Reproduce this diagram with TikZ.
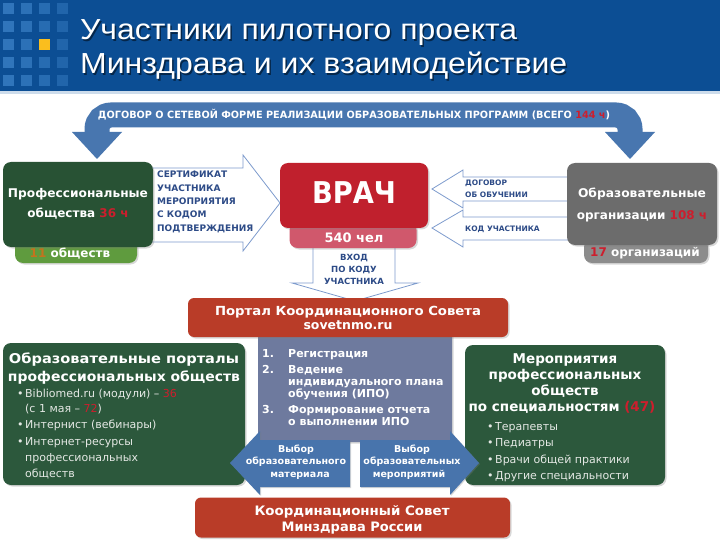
\documentclass[tikz,border=0pt]{standalone}
\usepackage{fontspec}
\usepackage{graphicx}
\setmainfont{DejaVu Sans}
\newfontfamily\titlefont{Liberation Sans}
\usetikzlibrary{shadows}
\definecolor{hdrblue}{RGB}{12,78,148}
\definecolor{hdrline}{RGB}{205,220,235}
\definecolor{sqblue}{RGB}{55,125,195}
\definecolor{gold}{RGB}{250,190,30}
\definecolor{steel}{RGB}{72,118,175}
\definecolor{dgreen}{RGB}{40,82,52}
\definecolor{dgreenb}{RGB}{44,88,60}
\definecolor{lgreen}{RGB}{95,155,62}
\definecolor{vred}{RGB}{192,32,45}
\definecolor{pinktab}{RGB}{208,88,108}
\definecolor{orggray}{RGB}{108,108,108}
\definecolor{graytab}{RGB}{140,140,140}
\definecolor{orred}{RGB}{185,60,40}
\definecolor{slate}{RGB}{110,122,158}
\definecolor{barrowc}{RGB}{72,116,172}
\definecolor{outline}{RGB}{125,155,205}
\definecolor{navytxt}{RGB}{45,75,135}
\definecolor{numred}{RGB}{205,30,45}
\definecolor{numorange}{RGB}{195,115,30}
\definecolor{bultxt}{RGB}{228,232,228}
\newcommand\fitw[2]{\resizebox{#1}{\height}{#2}}
\tikzset{
  panel/.style={rounded corners=8pt, inner sep=0pt, draw=none,
    drop shadow={shadow xshift=1.5pt, shadow yshift=-1.5pt, opacity=0.3}},
  wt/.style={inner sep=0pt, anchor=base, text=white, font=\bfseries\fontsize{#1}{#1}\selectfont},
  wt/.default=12,
  nt/.style={inner sep=0pt, anchor=base west, text=navytxt, font=\bfseries\fontsize{#1}{#1}\selectfont},
  nt/.default=9,
  lt/.style={inner sep=0pt, anchor=base west, text=white, font=\bfseries\fontsize{11}{11}\selectfont},
  bt/.style={inner sep=0pt, anchor=base west, text=bultxt, font=\fontsize{11}{11}\selectfont},
  outarrow/.style={draw=outline, fill=white, line width=0.8pt, line join=miter},
  barrow/.style={fill=barrowc, drop shadow={shadow xshift=1pt, shadow yshift=-1pt, opacity=0.3}},
  titletxt/.style={inner sep=0pt, anchor=base west, font=\titlefont\fontsize{29}{29}\selectfont}
}
\begin{document}
\begin{tikzpicture}[x=1pt,y=-1pt]
\useasboundingbox (0,0) rectangle (720,540);
\fill[white] (0,0) rectangle (720,540);
% header
\fill[hdrblue] (0,0) rectangle (720,91);
\fill[hdrline] (0,91) rectangle (720,94);
\foreach \c/\op in {0/0.85,1/0.75,2/0.65,3/0.5}
  \foreach \r in {0,...,4}
    \fill[sqblue, opacity=\op] (3+18*\c,3+18*\r) rectangle ++(11,11);
\fill[gold] (39,39) rectangle ++(11,11);
\node[titletxt, text=black, opacity=0.5] (t1s) at (81.5,41.5) {\fitw{437pt}{Участники пилотного проекта}};
\node[titletxt, text=black, opacity=0.5] (t2s) at (81.5,75.5) {\fitw{487pt}{Минздрава и их взаимодействие}};
\node[titletxt, text=white] (t1) at (80,40) {\fitw{437pt}{Участники пилотного проекта}};
\node[titletxt, text=white] (t2) at (80,74) {\fitw{487pt}{Минздрава и их взаимодействие}};

% top band arrow
\coordinate (bl) at (97,134);
\coordinate (br) at (630,134);
\coordinate (bm) at (363,115);
\draw[steel, line width=25pt, rounded corners=14pt] (bl) |- (bm) -| (br);
\fill[steel] (72,132) -- (122,132) -- (97,159) -- cycle;
\fill[steel] (605,132) -- (655,132) -- (630,159) -- cycle;
\node[wt=10] (bandtxt) at (354,119) {\fitw{512pt}{ДОГОВОР О СЕТЕВОЙ ФОРМЕ РЕАЛИЗАЦИИ ОБРАЗОВАТЕЛЬНЫХ ПРОГРАММ (ВСЕГО \textcolor{numred}{144 ч})}};

% certificate arrow
\draw[outarrow] (140,168) -- (243,168) -- (243,155) -- (280,203) -- (243,251) -- (243,242) -- (140,242) -- cycle;
\node[nt] (c1) at (157,178) {СЕРТИФИКАТ};
\node[nt] (c2) at (157,192) {УЧАСТНИКА};
\node[nt] (c3) at (157,205) {МЕРОПРИЯТИЯ};
\node[nt] (c4) at (157,218) {С КОДОМ};
\node[nt] (c5) at (157,231) {ПОДТВЕРЖДЕНИЯ};

% professional societies
\node[panel, fill=lgreen, minimum width=122pt, minimum height=24pt] (proftab) at (76,251) {};
\node[panel, fill=dgreen, minimum width=150pt, minimum height=85pt] (prof) at (78,204.5) {};
\node[wt=12] (p1) at (78,198) {\fitw{140pt}{Профессиональные}};
\node[wt=12] (p2) at (78,218) {общества \textcolor{numred}{36 ч}};
\node[wt=12] (p3) at (70,257) {\textcolor{numorange}{11} обществ};

% right arrows
\draw[outarrow] (580,177) -- (463,177) -- (463,170) -- (432,189) -- (463,208) -- (463,201) -- (580,201) -- cycle;
\draw[outarrow] (580,217) -- (463,217) -- (463,210) -- (432,228) -- (463,247) -- (463,240) -- (580,240) -- cycle;
\node[nt=7.5] (d1) at (465,186) {ДОГОВОР};
\node[nt=7.5] (d2) at (465,197) {ОБ ОБУЧЕНИИ};
\node[nt=7.5] (d3) at (465,231) {КОД УЧАСТНИКА};

% organisations
\node[panel, fill=graytab, minimum width=124pt, minimum height=24pt] (orgtab) at (646,251) {};
\node[panel, fill=orggray, minimum width=150pt, minimum height=82pt] (org) at (642,204) {};
\node[wt=12] (o1) at (642,198) {\fitw{128pt}{Образовательные}};
\node[wt=12] (o2) at (642,220) {организации \textcolor{numred}{108 ч}};
\node[wt=12] (o3) at (645,256) {\textcolor{numred}{17} организаций};

% entry arrow
\draw[outarrow] (313,238) -- (313,283) -- (292,283) -- (355,301) -- (418,283) -- (395,283) -- (395,238) -- cycle;
\node[nt=8.5, anchor=base] (e1) at (354,260) {ВХОД};
\node[nt=8.5, anchor=base] (e2) at (354,272) {ПО КОДУ};
\node[nt=8.5, anchor=base] (e3) at (354,284) {УЧАСТНИКА};

% doctor
\node[panel, fill=pinktab, minimum width=127pt, minimum height=26pt] (vtab) at (353,235) {};
\node[panel, fill=vred, minimum width=148pt, minimum height=65pt] (vrach) at (354,195.5) {};
\node[wt=30] (v1) at (354,204) {\fitw{84pt}{ВРАЧ}};
\node[wt=13] (v2) at (354,243) {540 чел};

% portal + slate
\node[panel, fill=slate, minimum width=194pt, minimum height=110pt, rounded corners=4pt] (slatebox) at (355,387) {};
\node[panel, fill=orred, minimum width=320pt, minimum height=39pt, rounded corners=6pt] (portal) at (348,317.5) {};
\node[wt=12.5] (po1) at (348,315) {\fitw{266pt}{Портал Координационного Совета}};
\node[wt=12.5] (po2) at (348,329) {sovetnmo.ru};

\node[lt] (n1) at (262,357) {1.};
\node[lt] (l1) at (288,357) {Регистрация};
\node[lt] (n2) at (262,373) {2.};
\node[lt] (l2) at (288,373) {Ведение};
\node[lt] (l3) at (288,385) {индивидуального плана};
\node[lt] (l4) at (288,397) {обучения (ИПО)};
\node[lt] (n3) at (262,413) {3.};
\node[lt] (l5) at (288,413) {Формирование отчета};
\node[lt] (l6) at (288,425) {о выполнении ИПО};

% portals of societies
\node[panel, fill=dgreenb, minimum width=242pt, minimum height=142pt] (portals) at (124,414) {};
\node[wt=13.5] (g1) at (124,363) {\fitw{230pt}{Образовательные порталы}};
\node[wt=13.5] (g2) at (124,381) {\fitw{232pt}{профессиональных обществ}};
\node[bt] (gb1) at (17,397) {•};
\node[bt] (gt1) at (25,397) {Bibliomed.ru (модули) – \textcolor{numred}{36}};
\node[bt] (gt2) at (25,412) {(с 1 мая – \textcolor{numred}{72})};
\node[bt] (gb3) at (17,428) {•};
\node[bt] (gt3) at (25,428) {Интернист (вебинары)};
\node[bt] (gb4) at (17,445) {•};
\node[bt] (gt4) at (25,445) {Интернет-ресурсы};
\node[bt] (gt5) at (25,461) {профессиональных};
\node[bt] (gt6) at (25,477) {обществ};

% events of societies
\node[panel, fill=dgreenb, minimum width=200pt, minimum height=140pt] (events) at (565,415) {};
\node[wt=13.5] (m1) at (565,363) {Мероприятия};
\node[wt=13.5] (m2) at (565,379) {профессиональных};
\node[wt=13.5] (m3) at (565,395) {обществ};
\node[wt=13.5] (m4) at (562,411) {по специальностям \textcolor{numred}{(47)}};
\node[bt] (mb1) at (487,430) {•};
\node[bt] (mt1) at (495,430) {Терапевты};
\node[bt] (mb2) at (487,446) {•};
\node[bt] (mt2) at (495,446) {Педиатры};
\node[bt] (mb3) at (487,463) {•};
\node[bt] (mt3) at (495,463) {Врачи общей практики};
\node[bt] (mb4) at (487,479) {•};
\node[bt] (mt4) at (495,479) {Другие специальности};

% choice arrows
\fill[barrow] (350,440) -- (260,440) -- (260,431) -- (230,463) -- (260,495) -- (260,487) -- (350,487) -- cycle;
\fill[barrow] (360,440) -- (450,440) -- (450,431) -- (479,463) -- (450,495) -- (450,487) -- (360,487) -- cycle;
\node[wt=9.5] (a1) at (296,452) {Выбор};
\node[wt=9.5] (a2) at (296,464) {образовательного};
\node[wt=9.5] (a3) at (300,477) {материала};
\node[wt=9.5] (b1) at (412,452) {Выбор};
\node[wt=9.5] (b2) at (412,464) {образовательных};
\node[wt=9.5] (b3) at (409,477) {мероприятий};

% coordination council
\node[panel, fill=orred, minimum width=315pt, minimum height=40pt, rounded corners=6pt] (koord) at (352.5,517.5) {};
\node[wt=13] (k1) at (352,515) {\fitw{195pt}{Координационный Совет}};
\node[wt=13] (k2) at (352,531) {Минздрава России};
\end{tikzpicture}
\end{document}
